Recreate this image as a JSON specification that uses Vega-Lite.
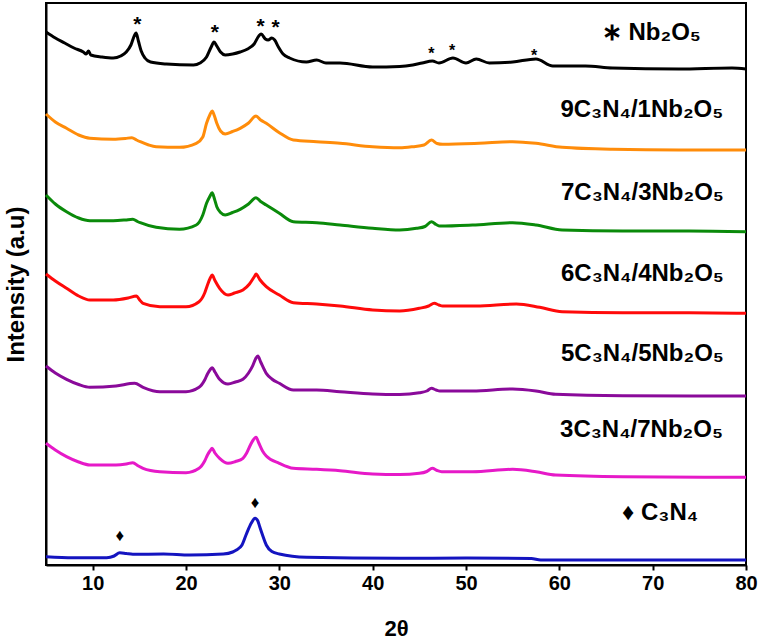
{
  "$schema": "https://vega.github.io/schema/vega-lite/v6.json",
  "width": 700,
  "height": 562,
  "autosize": {"type": "none"},
  "padding": {"left": 46, "top": 3, "right": 16, "bottom": 78},
  "config": {
    "font": "Liberation Sans",
    "view": {"stroke": "black", "strokeWidth": 2}
  },
  "datasets": {
    "patterns": [
      {"sample": "Nb2O5", "two_theta": 5, "intensity": 533},
      {"sample": "Nb2O5", "two_theta": 6, "intensity": 527},
      {"sample": "Nb2O5", "two_theta": 7, "intensity": 522},
      {"sample": "Nb2O5", "two_theta": 8, "intensity": 517},
      {"sample": "Nb2O5", "two_theta": 9, "intensity": 513},
      {"sample": "Nb2O5", "two_theta": 9.3, "intensity": 511},
      {"sample": "Nb2O5", "two_theta": 9.56, "intensity": 514},
      {"sample": "Nb2O5", "two_theta": 9.8, "intensity": 510},
      {"sample": "Nb2O5", "two_theta": 11, "intensity": 508},
      {"sample": "Nb2O5", "two_theta": 12.2, "intensity": 507},
      {"sample": "Nb2O5", "two_theta": 13, "intensity": 509},
      {"sample": "Nb2O5", "two_theta": 13.6, "intensity": 513},
      {"sample": "Nb2O5", "two_theta": 14.1, "intensity": 520},
      {"sample": "Nb2O5", "two_theta": 14.5, "intensity": 530},
      {"sample": "Nb2O5", "two_theta": 14.65, "intensity": 532},
      {"sample": "Nb2O5", "two_theta": 14.9, "intensity": 524},
      {"sample": "Nb2O5", "two_theta": 15.2, "intensity": 514},
      {"sample": "Nb2O5", "two_theta": 15.6, "intensity": 507},
      {"sample": "Nb2O5", "two_theta": 16.2, "intensity": 503},
      {"sample": "Nb2O5", "two_theta": 17.9, "intensity": 501},
      {"sample": "Nb2O5", "two_theta": 20.8, "intensity": 500},
      {"sample": "Nb2O5", "two_theta": 21.5, "intensity": 502},
      {"sample": "Nb2O5", "two_theta": 22.2, "intensity": 508},
      {"sample": "Nb2O5", "two_theta": 22.7, "intensity": 518},
      {"sample": "Nb2O5", "two_theta": 23, "intensity": 523},
      {"sample": "Nb2O5", "two_theta": 23.3, "intensity": 519},
      {"sample": "Nb2O5", "two_theta": 23.7, "intensity": 513},
      {"sample": "Nb2O5", "two_theta": 24.2, "intensity": 510},
      {"sample": "Nb2O5", "two_theta": 25, "intensity": 511},
      {"sample": "Nb2O5", "two_theta": 25.8, "intensity": 513},
      {"sample": "Nb2O5", "two_theta": 26.6, "intensity": 516},
      {"sample": "Nb2O5", "two_theta": 27.3, "intensity": 521},
      {"sample": "Nb2O5", "two_theta": 27.8, "intensity": 529},
      {"sample": "Nb2O5", "two_theta": 28.05, "intensity": 531},
      {"sample": "Nb2O5", "two_theta": 28.5, "intensity": 526},
      {"sample": "Nb2O5", "two_theta": 28.8, "intensity": 525},
      {"sample": "Nb2O5", "two_theta": 29.2, "intensity": 527},
      {"sample": "Nb2O5", "two_theta": 29.5, "intensity": 525},
      {"sample": "Nb2O5", "two_theta": 29.9, "intensity": 518},
      {"sample": "Nb2O5", "two_theta": 30.4, "intensity": 511},
      {"sample": "Nb2O5", "two_theta": 31.1, "intensity": 507},
      {"sample": "Nb2O5", "two_theta": 32.9, "intensity": 503},
      {"sample": "Nb2O5", "two_theta": 34, "intensity": 505},
      {"sample": "Nb2O5", "two_theta": 35, "intensity": 502},
      {"sample": "Nb2O5", "two_theta": 36.5, "intensity": 502},
      {"sample": "Nb2O5", "two_theta": 40, "intensity": 498},
      {"sample": "Nb2O5", "two_theta": 42.9, "intensity": 498.5},
      {"sample": "Nb2O5", "two_theta": 44.3, "intensity": 500},
      {"sample": "Nb2O5", "two_theta": 45.3, "intensity": 502},
      {"sample": "Nb2O5", "two_theta": 46.4, "intensity": 504},
      {"sample": "Nb2O5", "two_theta": 47.1, "intensity": 502},
      {"sample": "Nb2O5", "two_theta": 48.6, "intensity": 507},
      {"sample": "Nb2O5", "two_theta": 50, "intensity": 502},
      {"sample": "Nb2O5", "two_theta": 51.1, "intensity": 506},
      {"sample": "Nb2O5", "two_theta": 52.5, "intensity": 502},
      {"sample": "Nb2O5", "two_theta": 55, "intensity": 503},
      {"sample": "Nb2O5", "two_theta": 57.5, "intensity": 506},
      {"sample": "Nb2O5", "two_theta": 59.3, "intensity": 499},
      {"sample": "Nb2O5", "two_theta": 62.8, "intensity": 499},
      {"sample": "Nb2O5", "two_theta": 65.7, "intensity": 497},
      {"sample": "Nb2O5", "two_theta": 72.8, "intensity": 496},
      {"sample": "Nb2O5", "two_theta": 78.5, "intensity": 497},
      {"sample": "Nb2O5", "two_theta": 80, "intensity": 496},

      {"sample": "9C3N4/1Nb2O5", "two_theta": 5, "intensity": 451},
      {"sample": "9C3N4/1Nb2O5", "two_theta": 6, "intensity": 443},
      {"sample": "9C3N4/1Nb2O5", "two_theta": 7.2, "intensity": 436.7},
      {"sample": "9C3N4/1Nb2O5", "two_theta": 8.5, "intensity": 430},
      {"sample": "9C3N4/1Nb2O5", "two_theta": 9.7, "intensity": 426.7},
      {"sample": "9C3N4/1Nb2O5", "two_theta": 12.2, "intensity": 425.7},
      {"sample": "9C3N4/1Nb2O5", "two_theta": 13.5, "intensity": 426.5},
      {"sample": "9C3N4/1Nb2O5", "two_theta": 14.2, "intensity": 427.3},
      {"sample": "9C3N4/1Nb2O5", "two_theta": 14.7, "intensity": 425},
      {"sample": "9C3N4/1Nb2O5", "two_theta": 15.1, "intensity": 423.3},
      {"sample": "9C3N4/1Nb2O5", "two_theta": 16, "intensity": 420},
      {"sample": "9C3N4/1Nb2O5", "two_theta": 16.8, "intensity": 418.3},
      {"sample": "9C3N4/1Nb2O5", "two_theta": 19.3, "intensity": 417.7},
      {"sample": "9C3N4/1Nb2O5", "two_theta": 21.1, "intensity": 421.7},
      {"sample": "9C3N4/1Nb2O5", "two_theta": 21.8, "intensity": 428},
      {"sample": "9C3N4/1Nb2O5", "two_theta": 22.2, "intensity": 441.7},
      {"sample": "9C3N4/1Nb2O5", "two_theta": 22.55, "intensity": 450},
      {"sample": "9C3N4/1Nb2O5", "two_theta": 22.8, "intensity": 454},
      {"sample": "9C3N4/1Nb2O5", "two_theta": 23.05, "intensity": 449},
      {"sample": "9C3N4/1Nb2O5", "two_theta": 23.3, "intensity": 441.7},
      {"sample": "9C3N4/1Nb2O5", "two_theta": 23.7, "intensity": 434},
      {"sample": "9C3N4/1Nb2O5", "two_theta": 24.2, "intensity": 431},
      {"sample": "9C3N4/1Nb2O5", "two_theta": 25, "intensity": 433.5},
      {"sample": "9C3N4/1Nb2O5", "two_theta": 25.8, "intensity": 436.7},
      {"sample": "9C3N4/1Nb2O5", "two_theta": 26.7, "intensity": 442},
      {"sample": "9C3N4/1Nb2O5", "two_theta": 27.5, "intensity": 449},
      {"sample": "9C3N4/1Nb2O5", "two_theta": 28, "intensity": 445},
      {"sample": "9C3N4/1Nb2O5", "two_theta": 28.6, "intensity": 441.7},
      {"sample": "9C3N4/1Nb2O5", "two_theta": 30, "intensity": 432.3},
      {"sample": "9C3N4/1Nb2O5", "two_theta": 31.5, "intensity": 425},
      {"sample": "9C3N4/1Nb2O5", "two_theta": 34, "intensity": 423.3},
      {"sample": "9C3N4/1Nb2O5", "two_theta": 36.5, "intensity": 421.7},
      {"sample": "9C3N4/1Nb2O5", "two_theta": 40, "intensity": 418.3},
      {"sample": "9C3N4/1Nb2O5", "two_theta": 42.9, "intensity": 417.2},
      {"sample": "9C3N4/1Nb2O5", "two_theta": 44.3, "intensity": 418.3},
      {"sample": "9C3N4/1Nb2O5", "two_theta": 45.5, "intensity": 420},
      {"sample": "9C3N4/1Nb2O5", "two_theta": 46.3, "intensity": 425},
      {"sample": "9C3N4/1Nb2O5", "two_theta": 46.9, "intensity": 421.5},
      {"sample": "9C3N4/1Nb2O5", "two_theta": 47.5, "intensity": 420.7},
      {"sample": "9C3N4/1Nb2O5", "two_theta": 51.4, "intensity": 421.7},
      {"sample": "9C3N4/1Nb2O5", "two_theta": 55, "intensity": 423.3},
      {"sample": "9C3N4/1Nb2O5", "two_theta": 57.5, "intensity": 421.7},
      {"sample": "9C3N4/1Nb2O5", "two_theta": 60.3, "intensity": 417.7},
      {"sample": "9C3N4/1Nb2O5", "two_theta": 65.7, "intensity": 415.7},
      {"sample": "9C3N4/1Nb2O5", "two_theta": 72.8, "intensity": 415},
      {"sample": "9C3N4/1Nb2O5", "two_theta": 80, "intensity": 415},

      {"sample": "7C3N4/3Nb2O5", "two_theta": 5, "intensity": 370},
      {"sample": "7C3N4/3Nb2O5", "two_theta": 6, "intensity": 361},
      {"sample": "7C3N4/3Nb2O5", "two_theta": 7.2, "intensity": 353.3},
      {"sample": "7C3N4/3Nb2O5", "two_theta": 8.5, "intensity": 347},
      {"sample": "7C3N4/3Nb2O5", "two_theta": 9.7, "intensity": 344.3},
      {"sample": "7C3N4/3Nb2O5", "two_theta": 12.2, "intensity": 344.3},
      {"sample": "7C3N4/3Nb2O5", "two_theta": 13.5, "intensity": 345},
      {"sample": "7C3N4/3Nb2O5", "two_theta": 14.3, "intensity": 345.7},
      {"sample": "7C3N4/3Nb2O5", "two_theta": 14.8, "intensity": 343.5},
      {"sample": "7C3N4/3Nb2O5", "two_theta": 15.1, "intensity": 342.3},
      {"sample": "7C3N4/3Nb2O5", "two_theta": 16.8, "intensity": 337.7},
      {"sample": "7C3N4/3Nb2O5", "two_theta": 19.3, "intensity": 335.7},
      {"sample": "7C3N4/3Nb2O5", "two_theta": 21.1, "intensity": 340},
      {"sample": "7C3N4/3Nb2O5", "two_theta": 21.8, "intensity": 350},
      {"sample": "7C3N4/3Nb2O5", "two_theta": 22.2, "intensity": 361.7},
      {"sample": "7C3N4/3Nb2O5", "two_theta": 22.55, "intensity": 368.5},
      {"sample": "7C3N4/3Nb2O5", "two_theta": 22.8, "intensity": 372.3},
      {"sample": "7C3N4/3Nb2O5", "two_theta": 23.05, "intensity": 366},
      {"sample": "7C3N4/3Nb2O5", "two_theta": 23.3, "intensity": 358.3},
      {"sample": "7C3N4/3Nb2O5", "two_theta": 23.7, "intensity": 352.5},
      {"sample": "7C3N4/3Nb2O5", "two_theta": 24.2, "intensity": 350},
      {"sample": "7C3N4/3Nb2O5", "two_theta": 25, "intensity": 352.5},
      {"sample": "7C3N4/3Nb2O5", "two_theta": 25.8, "intensity": 355.7},
      {"sample": "7C3N4/3Nb2O5", "two_theta": 26.7, "intensity": 361},
      {"sample": "7C3N4/3Nb2O5", "two_theta": 27.5, "intensity": 367.3},
      {"sample": "7C3N4/3Nb2O5", "two_theta": 28, "intensity": 363.5},
      {"sample": "7C3N4/3Nb2O5", "two_theta": 28.6, "intensity": 360},
      {"sample": "7C3N4/3Nb2O5", "two_theta": 30, "intensity": 351.7},
      {"sample": "7C3N4/3Nb2O5", "two_theta": 31.5, "intensity": 343.3},
      {"sample": "7C3N4/3Nb2O5", "two_theta": 34, "intensity": 342.3},
      {"sample": "7C3N4/3Nb2O5", "two_theta": 36.5, "intensity": 340},
      {"sample": "7C3N4/3Nb2O5", "two_theta": 40, "intensity": 336.7},
      {"sample": "7C3N4/3Nb2O5", "two_theta": 42.9, "intensity": 335},
      {"sample": "7C3N4/3Nb2O5", "two_theta": 44.7, "intensity": 336.7},
      {"sample": "7C3N4/3Nb2O5", "two_theta": 45.6, "intensity": 338.5},
      {"sample": "7C3N4/3Nb2O5", "two_theta": 46.3, "intensity": 343.3},
      {"sample": "7C3N4/3Nb2O5", "two_theta": 46.8, "intensity": 340.5},
      {"sample": "7C3N4/3Nb2O5", "two_theta": 47.2, "intensity": 339},
      {"sample": "7C3N4/3Nb2O5", "two_theta": 50.7, "intensity": 340},
      {"sample": "7C3N4/3Nb2O5", "two_theta": 55, "intensity": 342.3},
      {"sample": "7C3N4/3Nb2O5", "two_theta": 57.5, "intensity": 340},
      {"sample": "7C3N4/3Nb2O5", "two_theta": 60.3, "intensity": 335},
      {"sample": "7C3N4/3Nb2O5", "two_theta": 66.8, "intensity": 334},
      {"sample": "7C3N4/3Nb2O5", "two_theta": 73.9, "intensity": 334},
      {"sample": "7C3N4/3Nb2O5", "two_theta": 80, "intensity": 333.3},

      {"sample": "6C3N4/4Nb2O5", "two_theta": 5, "intensity": 291},
      {"sample": "6C3N4/4Nb2O5", "two_theta": 6, "intensity": 284},
      {"sample": "6C3N4/4Nb2O5", "two_theta": 7.2, "intensity": 276.7},
      {"sample": "6C3N4/4Nb2O5", "two_theta": 8.5, "intensity": 269},
      {"sample": "6C3N4/4Nb2O5", "two_theta": 9.7, "intensity": 265},
      {"sample": "6C3N4/4Nb2O5", "two_theta": 12.2, "intensity": 265},
      {"sample": "6C3N4/4Nb2O5", "two_theta": 13.8, "intensity": 267},
      {"sample": "6C3N4/4Nb2O5", "two_theta": 14.7, "intensity": 269},
      {"sample": "6C3N4/4Nb2O5", "two_theta": 15, "intensity": 265.5},
      {"sample": "6C3N4/4Nb2O5", "two_theta": 15.4, "intensity": 261.7},
      {"sample": "6C3N4/4Nb2O5", "two_theta": 17.2, "intensity": 258.3},
      {"sample": "6C3N4/4Nb2O5", "two_theta": 20, "intensity": 258.3},
      {"sample": "6C3N4/4Nb2O5", "two_theta": 21.4, "intensity": 263.3},
      {"sample": "6C3N4/4Nb2O5", "two_theta": 22, "intensity": 272},
      {"sample": "6C3N4/4Nb2O5", "two_theta": 22.3, "intensity": 280},
      {"sample": "6C3N4/4Nb2O5", "two_theta": 22.6, "intensity": 287},
      {"sample": "6C3N4/4Nb2O5", "two_theta": 22.8, "intensity": 290},
      {"sample": "6C3N4/4Nb2O5", "two_theta": 23.1, "intensity": 284.5},
      {"sample": "6C3N4/4Nb2O5", "two_theta": 23.6, "intensity": 276.7},
      {"sample": "6C3N4/4Nb2O5", "two_theta": 24.5, "intensity": 270},
      {"sample": "6C3N4/4Nb2O5", "two_theta": 25.2, "intensity": 272},
      {"sample": "6C3N4/4Nb2O5", "two_theta": 26.1, "intensity": 275},
      {"sample": "6C3N4/4Nb2O5", "two_theta": 26.8, "intensity": 281},
      {"sample": "6C3N4/4Nb2O5", "two_theta": 27.3, "intensity": 288},
      {"sample": "6C3N4/4Nb2O5", "two_theta": 27.5, "intensity": 291},
      {"sample": "6C3N4/4Nb2O5", "two_theta": 27.9, "intensity": 285.5},
      {"sample": "6C3N4/4Nb2O5", "two_theta": 28.6, "intensity": 278.3},
      {"sample": "6C3N4/4Nb2O5", "two_theta": 30, "intensity": 270},
      {"sample": "6C3N4/4Nb2O5", "two_theta": 31.5, "intensity": 262.3},
      {"sample": "6C3N4/4Nb2O5", "two_theta": 34, "intensity": 261},
      {"sample": "6C3N4/4Nb2O5", "two_theta": 36.5, "intensity": 259},
      {"sample": "6C3N4/4Nb2O5", "two_theta": 40, "intensity": 255},
      {"sample": "6C3N4/4Nb2O5", "two_theta": 42.9, "intensity": 254},
      {"sample": "6C3N4/4Nb2O5", "two_theta": 45, "intensity": 256.7},
      {"sample": "6C3N4/4Nb2O5", "two_theta": 46, "intensity": 259},
      {"sample": "6C3N4/4Nb2O5", "two_theta": 46.6, "intensity": 261.7},
      {"sample": "6C3N4/4Nb2O5", "two_theta": 47.1, "intensity": 260},
      {"sample": "6C3N4/4Nb2O5", "two_theta": 47.5, "intensity": 259},
      {"sample": "6C3N4/4Nb2O5", "two_theta": 51.1, "intensity": 259},
      {"sample": "6C3N4/4Nb2O5", "two_theta": 55.4, "intensity": 261},
      {"sample": "6C3N4/4Nb2O5", "two_theta": 57.9, "intensity": 257.7},
      {"sample": "6C3N4/4Nb2O5", "two_theta": 60.3, "intensity": 253.3},
      {"sample": "6C3N4/4Nb2O5", "two_theta": 66.8, "intensity": 252.3},
      {"sample": "6C3N4/4Nb2O5", "two_theta": 73.9, "intensity": 252.3},
      {"sample": "6C3N4/4Nb2O5", "two_theta": 80, "intensity": 251.7},

      {"sample": "5C3N4/5Nb2O5", "two_theta": 5, "intensity": 199},
      {"sample": "5C3N4/5Nb2O5", "two_theta": 6, "intensity": 192},
      {"sample": "5C3N4/5Nb2O5", "two_theta": 7.2, "intensity": 185.7},
      {"sample": "5C3N4/5Nb2O5", "two_theta": 8.5, "intensity": 180.5},
      {"sample": "5C3N4/5Nb2O5", "two_theta": 9.7, "intensity": 177.7},
      {"sample": "5C3N4/5Nb2O5", "two_theta": 12.5, "intensity": 179},
      {"sample": "5C3N4/5Nb2O5", "two_theta": 14.5, "intensity": 181.7},
      {"sample": "5C3N4/5Nb2O5", "two_theta": 15.4, "intensity": 177.7},
      {"sample": "5C3N4/5Nb2O5", "two_theta": 17.2, "intensity": 173.3},
      {"sample": "5C3N4/5Nb2O5", "two_theta": 20, "intensity": 173.3},
      {"sample": "5C3N4/5Nb2O5", "two_theta": 21.4, "intensity": 177.7},
      {"sample": "5C3N4/5Nb2O5", "two_theta": 22, "intensity": 185},
      {"sample": "5C3N4/5Nb2O5", "two_theta": 22.3, "intensity": 191},
      {"sample": "5C3N4/5Nb2O5", "two_theta": 22.6, "intensity": 195.5},
      {"sample": "5C3N4/5Nb2O5", "two_theta": 22.8, "intensity": 197.3},
      {"sample": "5C3N4/5Nb2O5", "two_theta": 23.1, "intensity": 193},
      {"sample": "5C3N4/5Nb2O5", "two_theta": 23.6, "intensity": 185.7},
      {"sample": "5C3N4/5Nb2O5", "two_theta": 24.5, "intensity": 181},
      {"sample": "5C3N4/5Nb2O5", "two_theta": 25.3, "intensity": 183},
      {"sample": "5C3N4/5Nb2O5", "two_theta": 26.1, "intensity": 185.7},
      {"sample": "5C3N4/5Nb2O5", "two_theta": 26.7, "intensity": 192},
      {"sample": "5C3N4/5Nb2O5", "two_theta": 27.1, "intensity": 198.3},
      {"sample": "5C3N4/5Nb2O5", "two_theta": 27.45, "intensity": 206},
      {"sample": "5C3N4/5Nb2O5", "two_theta": 27.7, "intensity": 209},
      {"sample": "5C3N4/5Nb2O5", "two_theta": 28, "intensity": 203},
      {"sample": "5C3N4/5Nb2O5", "two_theta": 28.6, "intensity": 191.7},
      {"sample": "5C3N4/5Nb2O5", "two_theta": 29.2, "intensity": 186},
      {"sample": "5C3N4/5Nb2O5", "two_theta": 30, "intensity": 181.7},
      {"sample": "5C3N4/5Nb2O5", "two_theta": 31.5, "intensity": 175},
      {"sample": "5C3N4/5Nb2O5", "two_theta": 34, "intensity": 175},
      {"sample": "5C3N4/5Nb2O5", "two_theta": 36.5, "intensity": 173.3},
      {"sample": "5C3N4/5Nb2O5", "two_theta": 40, "intensity": 171},
      {"sample": "5C3N4/5Nb2O5", "two_theta": 42.9, "intensity": 170.5},
      {"sample": "5C3N4/5Nb2O5", "two_theta": 45, "intensity": 172.3},
      {"sample": "5C3N4/5Nb2O5", "two_theta": 45.8, "intensity": 174},
      {"sample": "5C3N4/5Nb2O5", "two_theta": 46.3, "intensity": 176.7},
      {"sample": "5C3N4/5Nb2O5", "two_theta": 46.8, "intensity": 175},
      {"sample": "5C3N4/5Nb2O5", "two_theta": 47.2, "intensity": 174},
      {"sample": "5C3N4/5Nb2O5", "two_theta": 50.7, "intensity": 174},
      {"sample": "5C3N4/5Nb2O5", "two_theta": 55, "intensity": 176},
      {"sample": "5C3N4/5Nb2O5", "two_theta": 57.5, "intensity": 174},
      {"sample": "5C3N4/5Nb2O5", "two_theta": 59.6, "intensity": 170.7},
      {"sample": "5C3N4/5Nb2O5", "two_theta": 66.8, "intensity": 169.3},
      {"sample": "5C3N4/5Nb2O5", "two_theta": 80, "intensity": 169},

      {"sample": "3C3N4/7Nb2O5", "two_theta": 5, "intensity": 121.7},
      {"sample": "3C3N4/7Nb2O5", "two_theta": 6, "intensity": 115},
      {"sample": "3C3N4/7Nb2O5", "two_theta": 7.2, "intensity": 108.3},
      {"sample": "3C3N4/7Nb2O5", "two_theta": 8.5, "intensity": 103},
      {"sample": "3C3N4/7Nb2O5", "two_theta": 9.7, "intensity": 100},
      {"sample": "3C3N4/7Nb2O5", "two_theta": 12.5, "intensity": 100},
      {"sample": "3C3N4/7Nb2O5", "two_theta": 13.6, "intensity": 101},
      {"sample": "3C3N4/7Nb2O5", "two_theta": 14.3, "intensity": 102.3},
      {"sample": "3C3N4/7Nb2O5", "two_theta": 14.9, "intensity": 99},
      {"sample": "3C3N4/7Nb2O5", "two_theta": 15.4, "intensity": 96.7},
      {"sample": "3C3N4/7Nb2O5", "two_theta": 17.2, "intensity": 93.3},
      {"sample": "3C3N4/7Nb2O5", "two_theta": 20, "intensity": 92.3},
      {"sample": "3C3N4/7Nb2O5", "two_theta": 21.4, "intensity": 96.7},
      {"sample": "3C3N4/7Nb2O5", "two_theta": 22, "intensity": 104},
      {"sample": "3C3N4/7Nb2O5", "two_theta": 22.3, "intensity": 110},
      {"sample": "3C3N4/7Nb2O5", "two_theta": 22.6, "intensity": 114.5},
      {"sample": "3C3N4/7Nb2O5", "two_theta": 22.8, "intensity": 116.7},
      {"sample": "3C3N4/7Nb2O5", "two_theta": 23.1, "intensity": 112},
      {"sample": "3C3N4/7Nb2O5", "two_theta": 23.6, "intensity": 106.7},
      {"sample": "3C3N4/7Nb2O5", "two_theta": 24.5, "intensity": 101.7},
      {"sample": "3C3N4/7Nb2O5", "two_theta": 25.3, "intensity": 103.5},
      {"sample": "3C3N4/7Nb2O5", "two_theta": 26.1, "intensity": 106.7},
      {"sample": "3C3N4/7Nb2O5", "two_theta": 26.5, "intensity": 112},
      {"sample": "3C3N4/7Nb2O5", "two_theta": 26.9, "intensity": 120},
      {"sample": "3C3N4/7Nb2O5", "two_theta": 27.2, "intensity": 125},
      {"sample": "3C3N4/7Nb2O5", "two_theta": 27.5, "intensity": 127.7},
      {"sample": "3C3N4/7Nb2O5", "two_theta": 27.8, "intensity": 122},
      {"sample": "3C3N4/7Nb2O5", "two_theta": 28.2, "intensity": 114},
      {"sample": "3C3N4/7Nb2O5", "two_theta": 28.6, "intensity": 109},
      {"sample": "3C3N4/7Nb2O5", "two_theta": 30, "intensity": 101.7},
      {"sample": "3C3N4/7Nb2O5", "two_theta": 31.5, "intensity": 96.7},
      {"sample": "3C3N4/7Nb2O5", "two_theta": 34, "intensity": 95.7},
      {"sample": "3C3N4/7Nb2O5", "two_theta": 36.5, "intensity": 94.3},
      {"sample": "3C3N4/7Nb2O5", "two_theta": 40, "intensity": 91},
      {"sample": "3C3N4/7Nb2O5", "two_theta": 42.9, "intensity": 90.5},
      {"sample": "3C3N4/7Nb2O5", "two_theta": 45, "intensity": 91.7},
      {"sample": "3C3N4/7Nb2O5", "two_theta": 45.8, "intensity": 93.5},
      {"sample": "3C3N4/7Nb2O5", "two_theta": 46.4, "intensity": 96.7},
      {"sample": "3C3N4/7Nb2O5", "two_theta": 46.9, "intensity": 94.5},
      {"sample": "3C3N4/7Nb2O5", "two_theta": 47.4, "intensity": 93.3},
      {"sample": "3C3N4/7Nb2O5", "two_theta": 50.7, "intensity": 93.3},
      {"sample": "3C3N4/7Nb2O5", "two_theta": 55, "intensity": 95.7},
      {"sample": "3C3N4/7Nb2O5", "two_theta": 57.5, "intensity": 93.3},
      {"sample": "3C3N4/7Nb2O5", "two_theta": 59.6, "intensity": 90},
      {"sample": "3C3N4/7Nb2O5", "two_theta": 66.8, "intensity": 88.3},
      {"sample": "3C3N4/7Nb2O5", "two_theta": 80, "intensity": 87.7},

      {"sample": "C3N4", "two_theta": 5, "intensity": 8.3},
      {"sample": "C3N4", "two_theta": 7.9, "intensity": 7.3},
      {"sample": "C3N4", "two_theta": 11.5, "intensity": 7.3},
      {"sample": "C3N4", "two_theta": 12.3, "intensity": 9},
      {"sample": "C3N4", "two_theta": 12.9, "intensity": 12.3},
      {"sample": "C3N4", "two_theta": 13.6, "intensity": 11.5},
      {"sample": "C3N4", "two_theta": 14.3, "intensity": 10.7},
      {"sample": "C3N4", "two_theta": 17.6, "intensity": 11},
      {"sample": "C3N4", "two_theta": 20.4, "intensity": 10},
      {"sample": "C3N4", "two_theta": 24, "intensity": 11},
      {"sample": "C3N4", "two_theta": 25, "intensity": 13},
      {"sample": "C3N4", "two_theta": 25.4, "intensity": 15},
      {"sample": "C3N4", "two_theta": 26, "intensity": 20},
      {"sample": "C3N4", "two_theta": 26.5, "intensity": 31.7},
      {"sample": "C3N4", "two_theta": 27, "intensity": 42},
      {"sample": "C3N4", "two_theta": 27.4, "intensity": 46.7},
      {"sample": "C3N4", "two_theta": 27.7, "intensity": 44},
      {"sample": "C3N4", "two_theta": 27.9, "intensity": 38.3},
      {"sample": "C3N4", "two_theta": 28.2, "intensity": 30},
      {"sample": "C3N4", "two_theta": 28.6, "intensity": 20},
      {"sample": "C3N4", "two_theta": 29.2, "intensity": 13.5},
      {"sample": "C3N4", "two_theta": 30, "intensity": 11},
      {"sample": "C3N4", "two_theta": 32.9, "intensity": 7.7},
      {"sample": "C3N4", "two_theta": 42.9, "intensity": 6.7},
      {"sample": "C3N4", "two_theta": 50, "intensity": 7},
      {"sample": "C3N4", "two_theta": 57, "intensity": 6.5},
      {"sample": "C3N4", "two_theta": 58, "intensity": 5},
      {"sample": "C3N4", "two_theta": 80, "intensity": 5}
    ],
    "nb_peaks": [
      {"two_theta": 14.8, "intensity": 545},
      {"two_theta": 23.1, "intensity": 536.7},
      {"two_theta": 28.0, "intensity": 543.3},
      {"two_theta": 29.6, "intensity": 541.7},
      {"two_theta": 46.3, "intensity": 515},
      {"two_theta": 48.5, "intensity": 517.7},
      {"two_theta": 57.3, "intensity": 513.3}
    ],
    "cn_peaks": [
      {"two_theta": 12.9, "intensity": 29.3},
      {"two_theta": 27.4, "intensity": 61.7}
    ],
    "labels": [
      {"two_theta": 69.86, "intensity": 525, "label": "∗ Nb₂O₅"},
      {"two_theta": 68.84, "intensity": 448, "label": "9C₃N₄/1Nb₂O₅"},
      {"two_theta": 68.9, "intensity": 365, "label": "7C₃N₄/3Nb₂O₅"},
      {"two_theta": 68.9, "intensity": 284, "label": "6C₃N₄/4Nb₂O₅"},
      {"two_theta": 68.9, "intensity": 204, "label": "5C₃N₄/5Nb₂O₅"},
      {"two_theta": 68.8, "intensity": 128, "label": "3C₃N₄/7Nb₂O₅"},
      {"two_theta": 70.8, "intensity": 45, "label": "♦ C₃N₄"}
    ]
  },
  "encoding": {
    "x": {
      "field": "two_theta",
      "type": "quantitative",
      "scale": {"domain": [5, 80], "nice": false, "zero": false},
      "axis": {
        "title": "2θ",
        "values": [10, 20, 30, 40, 50, 60, 70, 80],
        "grid": false,
        "labelFlush": false,
        "tickSize": 5,
        "tickWidth": 2,
        "tickColor": "black",
        "domainColor": "black",
        "domainWidth": 2,
        "labelFontSize": 20,
        "labelFontWeight": "bold",
        "labelColor": "black",
        "labelPadding": 3,
        "titleFontSize": 22,
        "titleFontWeight": "bold",
        "titleColor": "black",
        "titlePadding": 25
      }
    },
    "y": {
      "field": "intensity",
      "type": "quantitative",
      "scale": {"domain": [0, 562], "nice": false},
      "axis": {
        "title": "Intensity (a.u)",
        "ticks": false,
        "labels": false,
        "grid": false,
        "domainColor": "black",
        "domainWidth": 2,
        "titleFontSize": 24,
        "titleFontWeight": "bold",
        "titleColor": "black",
        "titlePadding": 18
      }
    }
  },
  "layer": [
    {
      "data": {"name": "patterns"},
      "mark": {"type": "line", "strokeWidth": 3, "interpolate": "monotone"},
      "encoding": {
        "color": {
          "field": "sample",
          "type": "nominal",
          "legend": null,
          "scale": {
            "domain": ["Nb2O5", "9C3N4/1Nb2O5", "7C3N4/3Nb2O5", "6C3N4/4Nb2O5", "5C3N4/5Nb2O5", "3C3N4/7Nb2O5", "C3N4"],
            "range": ["#000000", "#ff8c0a", "#0a8a0a", "#ff0a0a", "#8a0a9a", "#e619c8", "#1414c0"]
          }
        }
      }
    },
    {
      "data": {"name": "nb_peaks"},
      "transform": [{"filter": "datum.two_theta < 40"}],
      "mark": {"type": "text", "text": "*", "fontSize": 21, "fontWeight": "bold", "color": "black", "baseline": "middle", "dy": 5}
    },
    {
      "data": {"name": "nb_peaks"},
      "transform": [{"filter": "datum.two_theta > 40"}],
      "mark": {"type": "text", "text": "*", "fontSize": 16, "fontWeight": "bold", "color": "black", "baseline": "middle", "dy": 4}
    },
    {
      "data": {"name": "cn_peaks"},
      "mark": {"type": "text", "text": "♦", "fontSize": 17, "color": "black", "baseline": "middle"}
    },
    {
      "data": {"name": "labels"},
      "mark": {"type": "text", "fontSize": 24, "fontWeight": "bold", "color": "black", "align": "center", "baseline": "alphabetic"},
      "encoding": {"text": {"field": "label"}}
    }
  ]
}
